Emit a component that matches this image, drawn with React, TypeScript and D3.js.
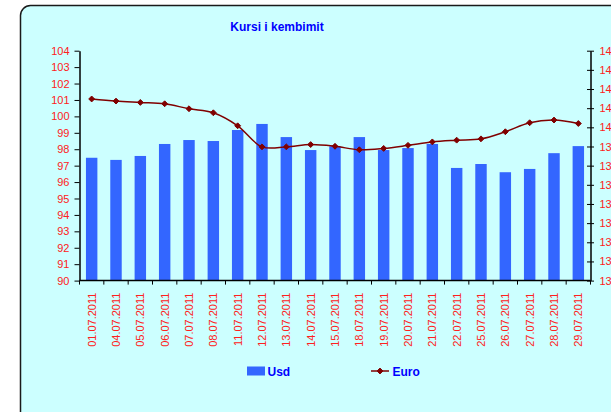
import { useEffect, useRef } from 'react';
import * as d3 from 'd3';

const dates = [
  '01.07.2011', '04.07.2011', '05.07.2011', '06.07.2011', '07.07.2011', '08.07.2011',
  '11.07.2011', '12.07.2011', '13.07.2011', '14.07.2011', '15.07.2011', '18.07.2011',
  '19.07.2011', '20.07.2011', '21.07.2011', '22.07.2011', '25.07.2011', '26.07.2011',
  '27.07.2011', '28.07.2011', '29.07.2011',
];

const usd = [
  97.48, 97.35, 97.59, 98.32, 98.56, 98.5, 99.17, 99.54, 98.74, 97.95, 98.18,
  98.74, 97.95, 98.07, 98.32, 96.86, 97.1, 96.6, 96.8, 97.76, 98.19,
];

const euro = [
  141.48, 141.37, 141.3, 141.23, 140.97, 140.76, 140.08, 138.98, 138.98, 139.1, 139.01,
  138.83, 138.9, 139.06, 139.24, 139.33, 139.4, 139.77, 140.24, 140.38, 140.2,
];

const leftTicks = d3.range(90, 105, 1);
const rightTicks = d3.range(132, 145, 1);

const App = () => {
  const svgRef = useRef(null);

  useEffect(() => {
    const svg = d3.select(svgRef.current);
    svg.selectAll('*').remove();

    const width = 611;
    const height = 412;
    const font = '"Liberation Sans", Arial, sans-serif';
    const red = '#ff2020';
    const blue = '#0000ff';

    svg.attr('width', width).attr('height', height);

    // chart background + rounded border (runs past the right/bottom edge)
    svg.append('rect').attr('width', width).attr('height', height).attr('fill', '#ffffff');
    svg.append('rect')
      .attr('x', 20.5).attr('y', 5.5)
      .attr('width', 640).attr('height', 440)
      .attr('rx', 10)
      .attr('fill', '#ccffff')
      .attr('stroke', '#1a1a1a')
      .attr('stroke-width', 1.5);

    const left = 79.5;
    const right = 590.5;
    const top = 50.7;
    const bottom = 280.6;

    const x = d3.scaleBand().domain(dates).range([left, right]).paddingInner(0.53).paddingOuter(0.265);
    const yL = d3.scaleLinear().domain([90, 104]).range([bottom, top]);
    const yR = d3.scaleLinear().domain([132, 144]).range([bottom, top]);
    const band = (right - left) / dates.length;
    const cx = (d) => x(d) + x.bandwidth() / 2;

    // title
    svg.append('text')
      .attr('x', 277).attr('y', 31)
      .attr('text-anchor', 'middle')
      .attr('font-family', font).attr('font-size', 12).attr('font-weight', 'bold')
      .attr('fill', blue)
      .text('Kursi i kembimit');

    // bars
    svg.selectAll('.bar')
      .data(usd)
      .enter()
      .append('rect')
      .attr('class', 'bar')
      .attr('x', (d, i) => x(dates[i]))
      .attr('y', d => yL(d))
      .attr('width', x.bandwidth())
      .attr('height', d => bottom - yL(d))
      .attr('fill', '#3366ff');

    // euro line
    const line = d3.line()
      .x((d, i) => cx(dates[i]))
      .y(d => yR(d))
      .curve(d3.curveCatmullRom.alpha(0.5));

    svg.append('path')
      .datum(euro)
      .attr('d', line)
      .attr('fill', 'none')
      .attr('stroke', '#800000')
      .attr('stroke-width', 1.5);

    const diamond = d3.symbol().type(d3.symbolDiamond2).size(22);
    svg.selectAll('.pt')
      .data(euro)
      .enter()
      .append('path')
      .attr('class', 'pt')
      .attr('d', diamond)
      .attr('transform', (d, i) => `translate(${cx(dates[i])},${yR(d)})`)
      .attr('fill', '#800000')
      .attr('stroke', '#800000')
      .attr('stroke-width', 1);

    // left axis
    const gL = svg.append('g')
      .attr('transform', `translate(${left},0)`)
      .call(d3.axisLeft(yL).tickValues(leftTicks).tickSize(5).tickSizeOuter(0).tickPadding(5));
    gL.select('.domain').attr('stroke', '#000').attr('stroke-width', 1.5);
    gL.selectAll('line').attr('stroke', '#000');
    gL.selectAll('text').attr('fill', red).attr('font-size', 11).attr('font-family', font);

    // right axis (ticks cross the axis)
    const gR = svg.append('g')
      .attr('transform', `translate(${right},0)`)
      .call(d3.axisRight(yR).tickValues(rightTicks).tickSize(4).tickSizeOuter(0).tickPadding(5));
    gR.select('.domain').attr('stroke', '#000').attr('stroke-width', 1.5);
    gR.selectAll('line').attr('stroke', '#000').attr('x1', -3.5).attr('x2', 3.5);
    gR.selectAll('text').attr('fill', red).attr('font-size', 11).attr('font-family', font).attr('x', 9);

    // x axis
    const gX = svg.append('g').attr('transform', `translate(0,${bottom})`);
    gX.append('line')
      .attr('x1', left).attr('x2', right)
      .attr('stroke', '#000').attr('stroke-width', 1.5);
    gX.selectAll('.tk')
      .data(d3.range(dates.length + 1))
      .enter()
      .append('line')
      .attr('class', 'tk')
      .attr('x1', i => left + i * band).attr('x2', i => left + i * band)
      .attr('y1', 0).attr('y2', 4)
      .attr('stroke', '#000');
    gX.selectAll('.lbl')
      .data(dates)
      .enter()
      .append('text')
      .attr('class', 'lbl')
      .attr('transform', d => `translate(${cx(d) + 4},12) rotate(-90)`)
      .attr('text-anchor', 'end')
      .attr('font-family', font).attr('font-size', 11)
      .attr('fill', red)
      .text(d => d);

    // legend
    const lg = svg.append('g');
    lg.append('rect')
      .attr('x', 247).attr('y', 366.5).attr('width', 18).attr('height', 9)
      .attr('fill', '#3366ff');
    lg.append('text')
      .attr('x', 267.5).attr('y', 375.5)
      .attr('font-family', font).attr('font-size', 12).attr('font-weight', 'bold')
      .attr('fill', blue)
      .text('Usd');
    lg.append('line')
      .attr('x1', 371).attr('x2', 389).attr('y1', 371).attr('y2', 371)
      .attr('stroke', '#800000').attr('stroke-width', 1.5);
    lg.append('path')
      .attr('d', diamond)
      .attr('transform', 'translate(380,371)')
      .attr('fill', '#800000').attr('stroke', '#800000');
    lg.append('text')
      .attr('x', 392.5).attr('y', 375.5)
      .attr('font-family', font).attr('font-size', 12).attr('font-weight', 'bold')
      .attr('fill', blue)
      .text('Euro');
  }, []);

  return (
    <svg ref={svgRef} style={{ position: 'absolute', left: 0, top: 0, display: 'block' }}></svg>
  );
};

export default App;
